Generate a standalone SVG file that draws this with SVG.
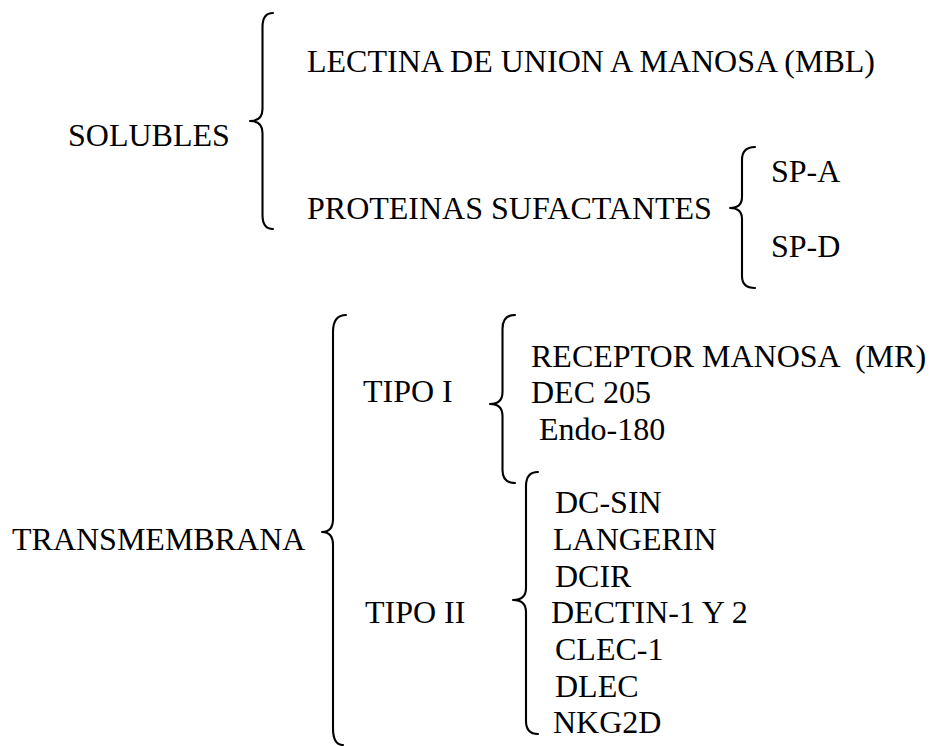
<svg xmlns="http://www.w3.org/2000/svg" width="933" height="746" viewBox="0 0 933 746">
<style>
text{font-family:"Liberation Serif","Times New Roman",serif;font-size:32px;fill:#000}
.br{fill:none;stroke:#000;stroke-width:2.1;stroke-linecap:round;stroke-linejoin:round}
</style>
<rect width="933" height="746" fill="#fff"/>
<g id="connectors">
<path class="br" d="M273,13 Q262.5,13 262.5,27 L262.5,109 Q262.5,121 250,121 Q262.5,121 262.5,133 L262.5,215 Q262.5,229 273,229"/>
<path class="br" d="M755,147 Q742,147 742,160 L742,197 Q742,208 730,208 Q742,208 742,219 L742,276 Q742,288 755,288"/>
<path class="br" d="M346,315 Q333,315 333,332 L333,519 Q333,532 322,532 Q333,532 333,545 L333,728 Q333,745 343,745"/>
<path class="br" d="M515,315 Q502.5,315 502.5,329 L502.5,392 Q502.5,404 490,404 Q502.5,404 502.5,416 L502.5,470 Q502.5,483 515,483"/>
<path class="br" d="M538,472 Q526,472 526,486 L526,588 Q526,600 513,600 Q526,600 526,612 L526,721 Q526,734 538,734"/>
</g>
<g id="solubles"><text x="68" y="146">SOLUBLES</text></g>
<g id="mbl"><text x="307" y="72">LECTINA DE UNION A MANOSA (MBL)</text></g>
<g id="proteinas"><text x="307" y="219">PROTEINAS SUFACTANTES</text></g>
<g id="spa"><text x="771" y="182">SP-A</text></g>
<g id="spd"><text x="771" y="257">SP-D</text></g>
<g id="transmembrana"><text x="12" y="550">TRANSMEMBRANA</text></g>
<g id="tipo1"><text x="363" y="402">TIPO I</text></g>
<g id="tipo2"><text x="365" y="623">TIPO II</text></g>
<g id="tipo1-list">
<text x="531" y="367" xml:space="preserve">RECEPTOR MANOSA  (MR)</text>
<text x="531" y="403">DEC 205</text>
<text x="539" y="440">Endo-180</text>
</g>
<g id="tipo2-list">
<text x="555" y="513">DC-SIN</text>
<text x="553" y="550">LANGERIN</text>
<text x="555" y="587">DCIR</text>
<text x="551" y="623">DECTIN-1 Y 2</text>
<text x="555" y="660">CLEC-1</text>
<text x="555" y="697">DLEC</text>
<text x="553" y="733">NKG2D</text>
</g>
</svg>
